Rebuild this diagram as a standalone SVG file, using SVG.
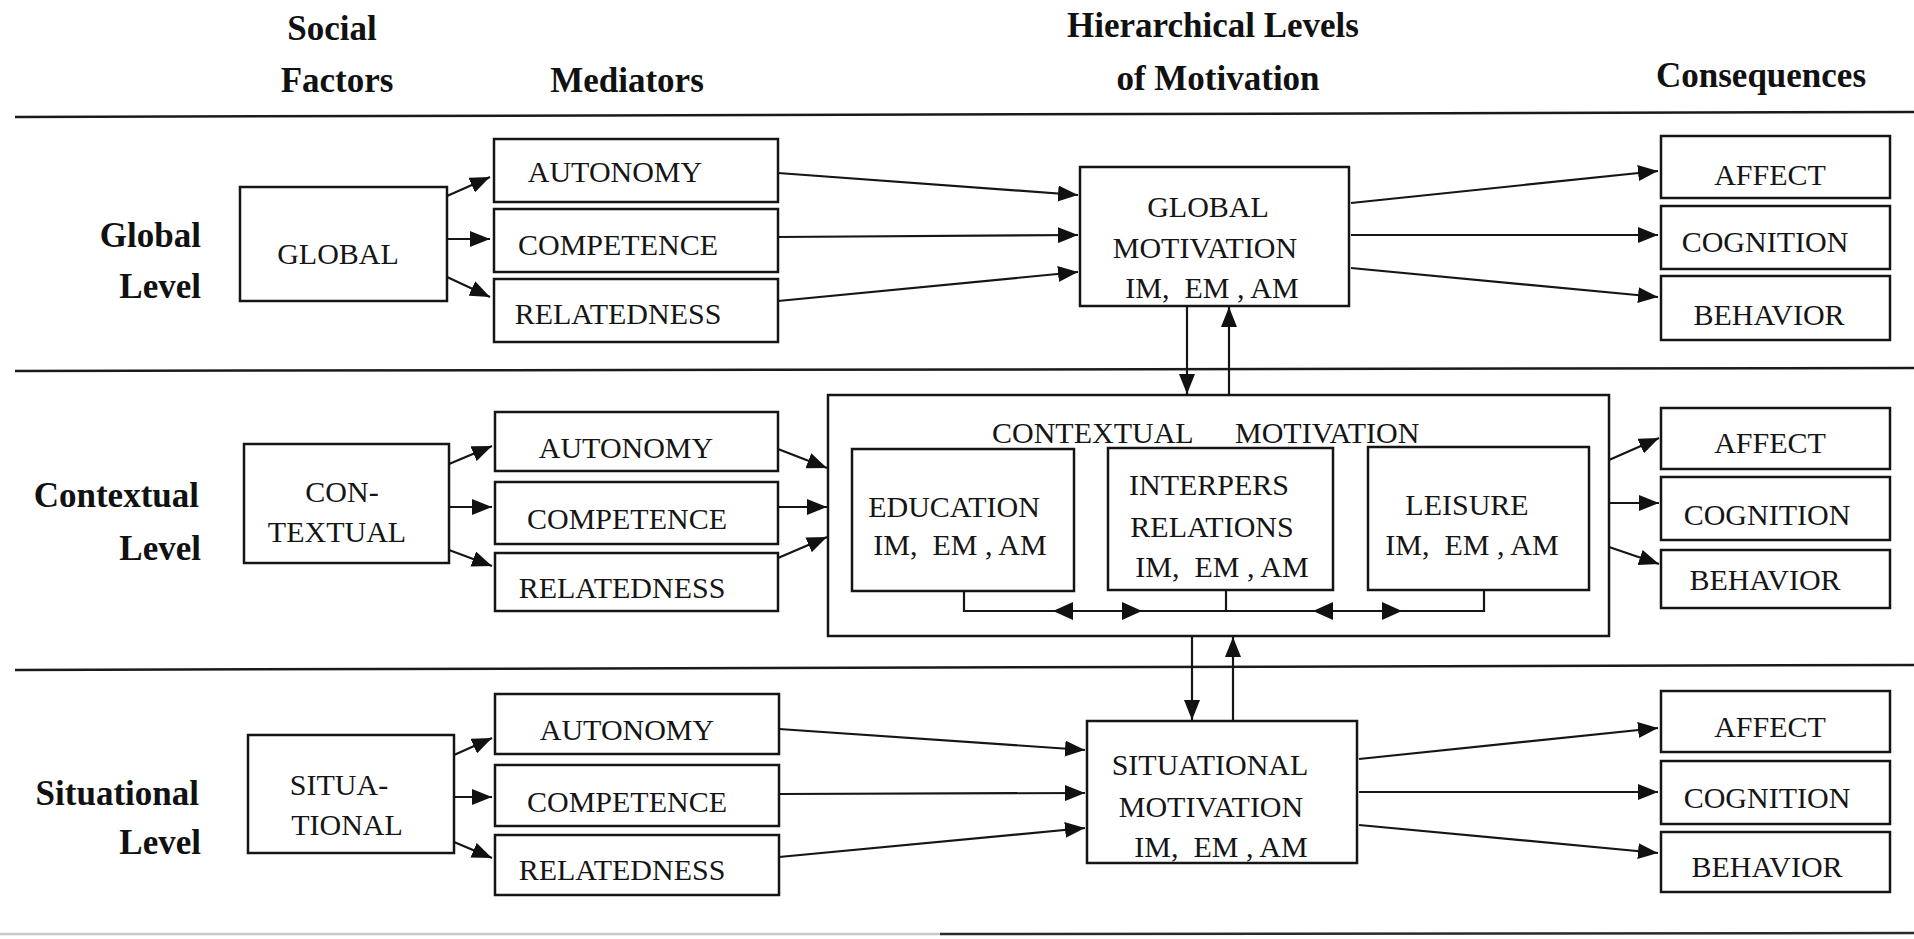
<svg xmlns="http://www.w3.org/2000/svg" width="1914" height="939" viewBox="0 0 1914 939">
  <defs>
    <marker id="ah" markerUnits="userSpaceOnUse" markerWidth="20" markerHeight="16" refX="20" refY="8" orient="auto">
      <path d="M0,0 L20,8 L0,16 z" fill="#111"/>
    </marker>
    <marker id="ahb" markerUnits="userSpaceOnUse" markerWidth="20" markerHeight="18" refX="20" refY="9" orient="auto">
      <path d="M0,0 L20,9 L0,18 z" fill="#111"/>
    </marker>
  </defs>
  <style>
    .box { fill: #fff; stroke: #151515; stroke-width: 2.5; }
    .sep { stroke: #1a1a1a; stroke-width: 2.5; fill: none; }
    .hdr { font-family: "Liberation Serif", "Times New Roman", serif; font-weight: bold; font-size: 35px; fill: #111; }
    .lbl { font-family: "Liberation Serif", "Times New Roman", serif; font-size: 30px; fill: #151515; white-space: pre; }
    .c { text-anchor: middle; }
    .r { text-anchor: end; }
    .ln { stroke: #151515; stroke-width: 2.2; fill: none; }
    .arr { stroke: #151515; stroke-width: 2.2; fill: none; marker-end: url(#ah); }
    .arrb { stroke: #151515; stroke-width: 2.2; fill: none; marker-end: url(#ahb); }
  </style>

  <rect width="1914" height="939" fill="#fff"/>

  <!-- column headings -->
  <g id="headings">
    <text class="hdr c" x="332" y="40">Social</text>
    <text class="hdr c" x="337" y="92">Factors</text>
    <text class="hdr c" x="627" y="92">Mediators</text>
    <text class="hdr c" x="1213" y="37">Hierarchical Levels</text>
    <text class="hdr c" x="1218" y="90">of Motivation</text>
    <text class="hdr c" x="1761" y="87">Consequences</text>
  </g>

  <!-- band separators -->
  <g id="separators">
    <line class="sep" x1="15" y1="117" x2="1914" y2="112"/>
    <line class="sep" x1="15" y1="371" x2="1914" y2="368"/>
    <line class="sep" x1="15" y1="670" x2="1914" y2="665"/>
    <line x1="0" y1="934" x2="940" y2="934" stroke="#c8c8c8" stroke-width="2.5"/>
    <line x1="940" y1="934" x2="1914" y2="933" stroke="#2a2a2a" stroke-width="2.5"/>
  </g>

  <!-- level labels -->
  <g id="level-labels">
    <text class="hdr r" x="201" y="247">Global</text>
    <text class="hdr r" x="201" y="298">Level</text>
    <text class="hdr r" x="199" y="507">Contextual</text>
    <text class="hdr r" x="201" y="560">Level</text>
    <text class="hdr r" x="199" y="805">Situational</text>
    <text class="hdr r" x="201" y="854">Level</text>
  </g>

  <!-- ===== Global level ===== -->
  <g id="global-social">
    <rect class="box" x="240" y="187" width="207" height="114"/>
    <text class="lbl c" x="338" y="264">GLOBAL</text>
  </g>
  <g id="global-autonomy">
    <rect class="box" x="494" y="139" width="284" height="63"/>
    <text class="lbl c" x="615" y="182">AUTONOMY</text>
  </g>
  <g id="global-competence">
    <rect class="box" x="494" y="209" width="284" height="63"/>
    <text class="lbl c" x="618" y="255">COMPETENCE</text>
  </g>
  <g id="global-relatedness">
    <rect class="box" x="494" y="279" width="284" height="63"/>
    <text class="lbl c" x="618" y="324">RELATEDNESS</text>
  </g>
  <g id="global-motivation">
    <rect class="box" x="1080" y="167" width="269" height="139"/>
    <text class="lbl c" x="1208" y="217">GLOBAL</text>
    <text class="lbl c" x="1205" y="258">MOTIVATION</text>
    <text class="lbl c" x="1212" y="298">IM,  EM , AM</text>
  </g>
  <g id="global-affect">
    <rect class="box" x="1661" y="136" width="229" height="62"/>
    <text class="lbl c" x="1770" y="185">AFFECT</text>
  </g>
  <g id="global-cognition">
    <rect class="box" x="1661" y="206" width="229" height="63"/>
    <text class="lbl c" x="1765" y="252">COGNITION</text>
  </g>
  <g id="global-behavior">
    <rect class="box" x="1661" y="276" width="229" height="64"/>
    <text class="lbl c" x="1769" y="325">BEHAVIOR</text>
  </g>

  <!-- ===== Contextual level ===== -->
  <g id="contextual-social">
    <rect class="box" x="244" y="444" width="205" height="119"/>
    <text class="lbl c" x="342" y="502">CON-</text>
    <text class="lbl c" x="337" y="542">TEXTUAL</text>
  </g>
  <g id="contextual-autonomy">
    <rect class="box" x="495" y="412" width="283" height="59"/>
    <text class="lbl c" x="626" y="458">AUTONOMY</text>
  </g>
  <g id="contextual-competence">
    <rect class="box" x="495" y="482" width="283" height="62"/>
    <text class="lbl c" x="627" y="529">COMPETENCE</text>
  </g>
  <g id="contextual-relatedness">
    <rect class="box" x="495" y="553" width="283" height="58"/>
    <text class="lbl c" x="622" y="598">RELATEDNESS</text>
  </g>
  <g id="contextual-motivation">
    <rect class="box" x="828" y="395" width="781" height="241"/>
    <text class="lbl" x="992" y="443">CONTEXTUAL<tspan x="1235">MOTIVATION</tspan></text>
  </g>
  <g id="education">
    <rect class="box" x="852" y="449" width="222" height="142"/>
    <text class="lbl c" x="954" y="517">EDUCATION</text>
    <text class="lbl c" x="960" y="555">IM,  EM , AM</text>
  </g>
  <g id="interpersonal-relations">
    <rect class="box" x="1108" y="448" width="225" height="142"/>
    <text class="lbl c" x="1209" y="495">INTERPERS</text>
    <text class="lbl c" x="1212" y="537">RELATIONS</text>
    <text class="lbl c" x="1222" y="577">IM,  EM , AM</text>
  </g>
  <g id="leisure">
    <rect class="box" x="1368" y="447" width="221" height="143"/>
    <text class="lbl c" x="1467" y="515">LEISURE</text>
    <text class="lbl c" x="1472" y="555">IM,  EM , AM</text>
  </g>
  <g id="contextual-affect">
    <rect class="box" x="1661" y="408" width="229" height="61"/>
    <text class="lbl c" x="1770" y="453">AFFECT</text>
  </g>
  <g id="contextual-cognition">
    <rect class="box" x="1661" y="477" width="229" height="63"/>
    <text class="lbl c" x="1767" y="525">COGNITION</text>
  </g>
  <g id="contextual-behavior">
    <rect class="box" x="1661" y="550" width="229" height="58"/>
    <text class="lbl c" x="1765" y="590">BEHAVIOR</text>
  </g>

  <!-- ===== Situational level ===== -->
  <g id="situational-social">
    <rect class="box" x="248" y="735" width="206" height="118"/>
    <text class="lbl c" x="339" y="795">SITUA-</text>
    <text class="lbl c" x="347" y="835">TIONAL</text>
  </g>
  <g id="situational-autonomy">
    <rect class="box" x="495" y="694" width="284" height="60"/>
    <text class="lbl c" x="627" y="740">AUTONOMY</text>
  </g>
  <g id="situational-competence">
    <rect class="box" x="495" y="765" width="284" height="61"/>
    <text class="lbl c" x="627" y="812">COMPETENCE</text>
  </g>
  <g id="situational-relatedness">
    <rect class="box" x="495" y="835" width="284" height="60"/>
    <text class="lbl c" x="622" y="880">RELATEDNESS</text>
  </g>
  <g id="situational-motivation">
    <rect class="box" x="1087" y="721" width="270" height="142"/>
    <text class="lbl c" x="1210" y="775">SITUATIONAL</text>
    <text class="lbl c" x="1211" y="817">MOTIVATION</text>
    <text class="lbl c" x="1221" y="857">IM,  EM , AM</text>
  </g>
  <g id="situational-affect">
    <rect class="box" x="1661" y="691" width="229" height="61"/>
    <text class="lbl c" x="1770" y="737">AFFECT</text>
  </g>
  <g id="situational-cognition">
    <rect class="box" x="1661" y="761" width="229" height="63"/>
    <text class="lbl c" x="1767" y="808">COGNITION</text>
  </g>
  <g id="situational-behavior">
    <rect class="box" x="1661" y="832" width="229" height="60"/>
    <text class="lbl c" x="1767" y="877">BEHAVIOR</text>
  </g>

  <!-- ===== connectors ===== -->
  <g id="connectors">
    <!-- global: social factor to mediators -->
    <line class="arr" x1="447" y1="196" x2="490" y2="177"/>
    <line class="arr" x1="447" y1="239" x2="490" y2="239"/>
    <line class="arr" x1="447" y1="277" x2="490" y2="297"/>
    <!-- global: mediators to motivation -->
    <line class="arr" x1="778" y1="173" x2="1078" y2="195"/>
    <line class="arr" x1="778" y1="237" x2="1078" y2="235"/>
    <line class="arr" x1="778" y1="301" x2="1078" y2="272"/>
    <!-- global: motivation to consequences -->
    <line class="arr" x1="1351" y1="203" x2="1658" y2="171"/>
    <line class="arr" x1="1351" y1="235" x2="1658" y2="235"/>
    <line class="arr" x1="1351" y1="268" x2="1658" y2="297"/>

    <!-- global / contextual link -->
    <line class="arr" x1="1187" y1="306" x2="1187" y2="394"/>
    <line class="arr" x1="1229" y1="395" x2="1229" y2="307"/>

    <!-- contextual: social factor to mediators -->
    <line class="arr" x1="449" y1="464" x2="492" y2="446"/>
    <line class="arr" x1="449" y1="507" x2="492" y2="507"/>
    <line class="arr" x1="449" y1="550" x2="492" y2="566"/>
    <!-- contextual: mediators to motivation -->
    <line class="arr" x1="778" y1="449" x2="827" y2="468"/>
    <line class="arr" x1="778" y1="507" x2="827" y2="507"/>
    <line class="arr" x1="778" y1="558" x2="827" y2="537"/>
    <!-- contextual: links between domains -->
    <polyline class="ln" points="964,591 964,611 1484,611 1484,590"/>
    <line class="ln" x1="1226" y1="590" x2="1226" y2="611"/>
    <line class="arrb" x1="1097" y1="611" x2="1053" y2="611"/>
    <line class="arrb" x1="1097" y1="611" x2="1142" y2="611"/>
    <line class="arrb" x1="1357" y1="611" x2="1313" y2="611"/>
    <line class="arrb" x1="1357" y1="611" x2="1402" y2="611"/>
    <!-- contextual: motivation to consequences -->
    <line class="arr" x1="1609" y1="460" x2="1659" y2="438"/>
    <line class="arr" x1="1609" y1="503" x2="1659" y2="503"/>
    <line class="arr" x1="1609" y1="547" x2="1659" y2="564"/>

    <!-- contextual / situational link -->
    <line class="arr" x1="1192" y1="636" x2="1192" y2="720"/>
    <line class="arr" x1="1233" y1="721" x2="1233" y2="637"/>

    <!-- situational: social factor to mediators -->
    <line class="arr" x1="454" y1="755" x2="492" y2="738"/>
    <line class="arr" x1="454" y1="797" x2="492" y2="797"/>
    <line class="arr" x1="454" y1="842" x2="492" y2="858"/>
    <!-- situational: mediators to motivation -->
    <line class="arr" x1="779" y1="729" x2="1085" y2="750"/>
    <line class="arr" x1="779" y1="794" x2="1085" y2="793"/>
    <line class="arr" x1="779" y1="857" x2="1085" y2="828"/>
    <!-- situational: motivation to consequences -->
    <line class="arr" x1="1359" y1="759" x2="1658" y2="728"/>
    <line class="arr" x1="1359" y1="792" x2="1658" y2="792"/>
    <line class="arr" x1="1359" y1="825" x2="1658" y2="853"/>
  </g>
</svg>
